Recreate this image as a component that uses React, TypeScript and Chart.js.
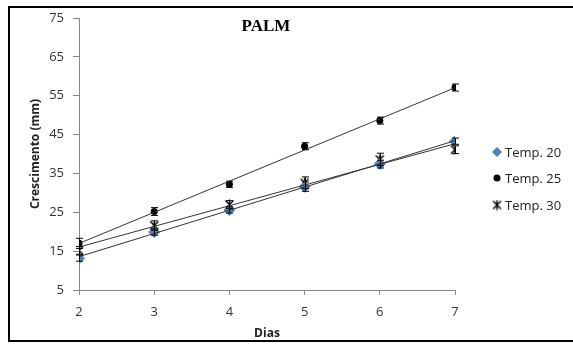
import React, { useEffect, useRef } from "react";
import { Chart, registerables } from "chart.js";

Chart.register(...registerables);

const days = [2, 3, 4, 5, 6, 7];
const temp20 = [13.2, 19.9, 25.6, 31.6, 37.4, 43.3];
const temp25 = [17.0, 25.2, 32.2, 42.0, 48.6, 57.1];
const temp30 = [15.2, 21.6, 27.0, 32.6, 38.6, 41.1];
const err20 = [0.8, 0.8, 0.8, 1.2, 1.0, 0.8];
const err25 = [1.3, 1.0, 0.8, 0.9, 0.9, 0.9];
const err30 = [1.0, 1.2, 1.0, 1.5, 1.6, 1.0];
const seriesNames = ["Temp. 20", "Temp. 25", "Temp. 30"];
const yTicks = [5, 15, 25, 35, 45, 55, 65, 75];

function fit(xs: number[], ys: number[]) {
  const n = xs.length;
  const mx = xs.reduce((a, b) => a + b, 0) / n;
  const my = ys.reduce((a, b) => a + b, 0) / n;
  let sxy = 0, sxx = 0;
  for (let i = 0; i < n; i++) {
    sxy += (xs[i] - mx) * (ys[i] - my);
    sxx += (xs[i] - mx) * (xs[i] - mx);
  }
  const b = sxy / sxx;
  const a = my - b * mx;
  return [
    { x: xs[0], y: a + b * xs[0] },
    { x: xs[n - 1], y: a + b * xs[n - 1] },
  ];
}

function starImage() {
  const c = document.createElement("canvas");
  c.width = 11;
  c.height = 11;
  const g = c.getContext("2d")!;
  g.strokeStyle = "#000";
  g.lineWidth = 1.4;
  g.beginPath();
  g.moveTo(1.5, 1.5); g.lineTo(9.5, 9.5);
  g.moveTo(9.5, 1.5); g.lineTo(1.5, 9.5);
  g.moveTo(5.5, 0.5); g.lineTo(5.5, 10.5);
  g.stroke();
  return c;
}

export default function App() {
  const ref = useRef<HTMLCanvasElement>(null);
  useEffect(() => {
    document.body.style.margin = "0";
    const star = starImage();
    const pts = (ys: number[]) => days.map((d, i) => ({ x: d, y: ys[i] }));
    const errs = [err20, err25, err30];
    const vals = [temp20, temp25, temp30];
    const font = "'Open Sans', 'Liberation Sans', sans-serif";

    const decor = {
      id: "decor",
      afterDatasetsDraw(chart: any) {
        const ctx = chart.ctx;
        const xs = chart.scales.x;
        const ys = chart.scales.y;
        ctx.save();
        ctx.strokeStyle = "#000";
        ctx.lineWidth = 1;
        for (let s = 0; s < 3; s++) {
          days.forEach((d, i) => {
            const px = Math.round(xs.getPixelForValue(d)) + 0.5;
            const top = ys.getPixelForValue(vals[s][i] + errs[s][i]);
            const bot = ys.getPixelForValue(vals[s][i] - errs[s][i]);
            ctx.beginPath();
            ctx.moveTo(px, top); ctx.lineTo(px, bot);
            ctx.moveTo(px - 3.5, top); ctx.lineTo(px + 3.5, top);
            ctx.moveTo(px - 3.5, bot); ctx.lineTo(px + 3.5, bot);
            ctx.stroke();
          });
        }
        ctx.restore();
      },
      afterDraw(chart: any) {
        const ctx = chart.ctx;
        const ca = chart.chartArea;
        ctx.save();
        ctx.strokeStyle = "#000";
        ctx.lineWidth = 2;
        ctx.strokeRect(9, 7, 580, 334);
        ctx.fillStyle = "#000";
        ctx.font = "bold 17px 'Liberation Serif', serif";
        ctx.textAlign = "center";
        ctx.textBaseline = "middle";
        ctx.fillText("PALM", (ca.left + ca.right) / 2 - 1, 27);
        ctx.font = `13px ${font}`;
        ctx.textAlign = "left";
        const ly = [152, 178, 205];
        const mx = 497;
        ctx.fillStyle = "#4F81BD";
        ctx.beginPath();
        ctx.moveTo(mx, ly[0] - 5); ctx.lineTo(mx + 5, ly[0]);
        ctx.lineTo(mx, ly[0] + 5); ctx.lineTo(mx - 5, ly[0]);
        ctx.closePath(); ctx.fill();
        ctx.fillStyle = "#000";
        ctx.beginPath();
        ctx.arc(mx, ly[1], 3.5, 0, Math.PI * 2);
        ctx.fill();
        ctx.drawImage(star, mx - 5.5, ly[2] - 5.5);
        ctx.fillStyle = "#222";
        seriesNames.forEach((n, i) => ctx.fillText(n, 505, ly[i] + 1));
        ctx.restore();
      },
    };

    const chart = new Chart(ref.current!, {
      type: "scatter",
      data: {
        datasets: [
          { label: "t20", data: fit(days, temp20), type: "line", borderColor: "#333", borderWidth: 1, pointRadius: 0, fill: false },
          { label: "t25", data: fit(days, temp25), type: "line", borderColor: "#333", borderWidth: 1, pointRadius: 0, fill: false },
          { label: "t30", data: fit(days, temp30), type: "line", borderColor: "#333", borderWidth: 1, pointRadius: 0, fill: false },
          { label: seriesNames[0], data: pts(temp20), pointStyle: "rectRot", pointRadius: 6, backgroundColor: "#4F81BD", borderColor: "#4F81BD", borderWidth: 0 },
          { label: seriesNames[1], data: pts(temp25), pointStyle: "circle", pointRadius: 3.5, backgroundColor: "#000", borderColor: "#000", borderWidth: 0 },
          { label: seriesNames[2], data: pts(temp30), pointStyle: star as any, pointRadius: 5 },
        ],
      },
      options: {
        animation: false,
        responsive: false,
        events: [],
        layout: { padding: { left: 10, top: 18, right: 118, bottom: 4 } },
        plugins: { legend: { display: false }, tooltip: { enabled: false }, title: { display: false } },
        scales: {
          x: {
            type: "linear",
            min: 2,
            max: 7,
            afterFit: (s: any) => { s.height = 55; },
            ticks: { stepSize: 1, color: "#333", font: { family: font, size: 13 }, padding: 9 },
            grid: { drawOnChartArea: false, drawTicks: true, tickLength: 5, color: "#888" },
            border: { color: "#888" },
            title: { display: true, text: "Dias", color: "#222", font: { family: font, size: 12, weight: "bold" }, padding: { top: 8 } },
          },
          y: {
            min: 5,
            max: 75,
            afterBuildTicks: (s: any) => { s.ticks = yTicks.map((v) => ({ value: v })); },
            afterFit: (s: any) => { s.width = 69; },
            ticks: { color: "#333", font: { family: font, size: 13 }, padding: 9 },
            grid: { drawOnChartArea: false, drawTicks: true, tickLength: 6, color: "#888" },
            border: { color: "#888" },
            title: { display: true, text: "Crescimento (mm)", color: "#222", font: { family: font, size: 12, weight: "bold" }, padding: { top: 18, bottom: 0 } },
          },
        },
      },
      plugins: [decor],
    });
    return () => chart.destroy();
  }, []);
  return <canvas ref={ref} width={573} height={349} style={{ display: "block" }} />;
}
